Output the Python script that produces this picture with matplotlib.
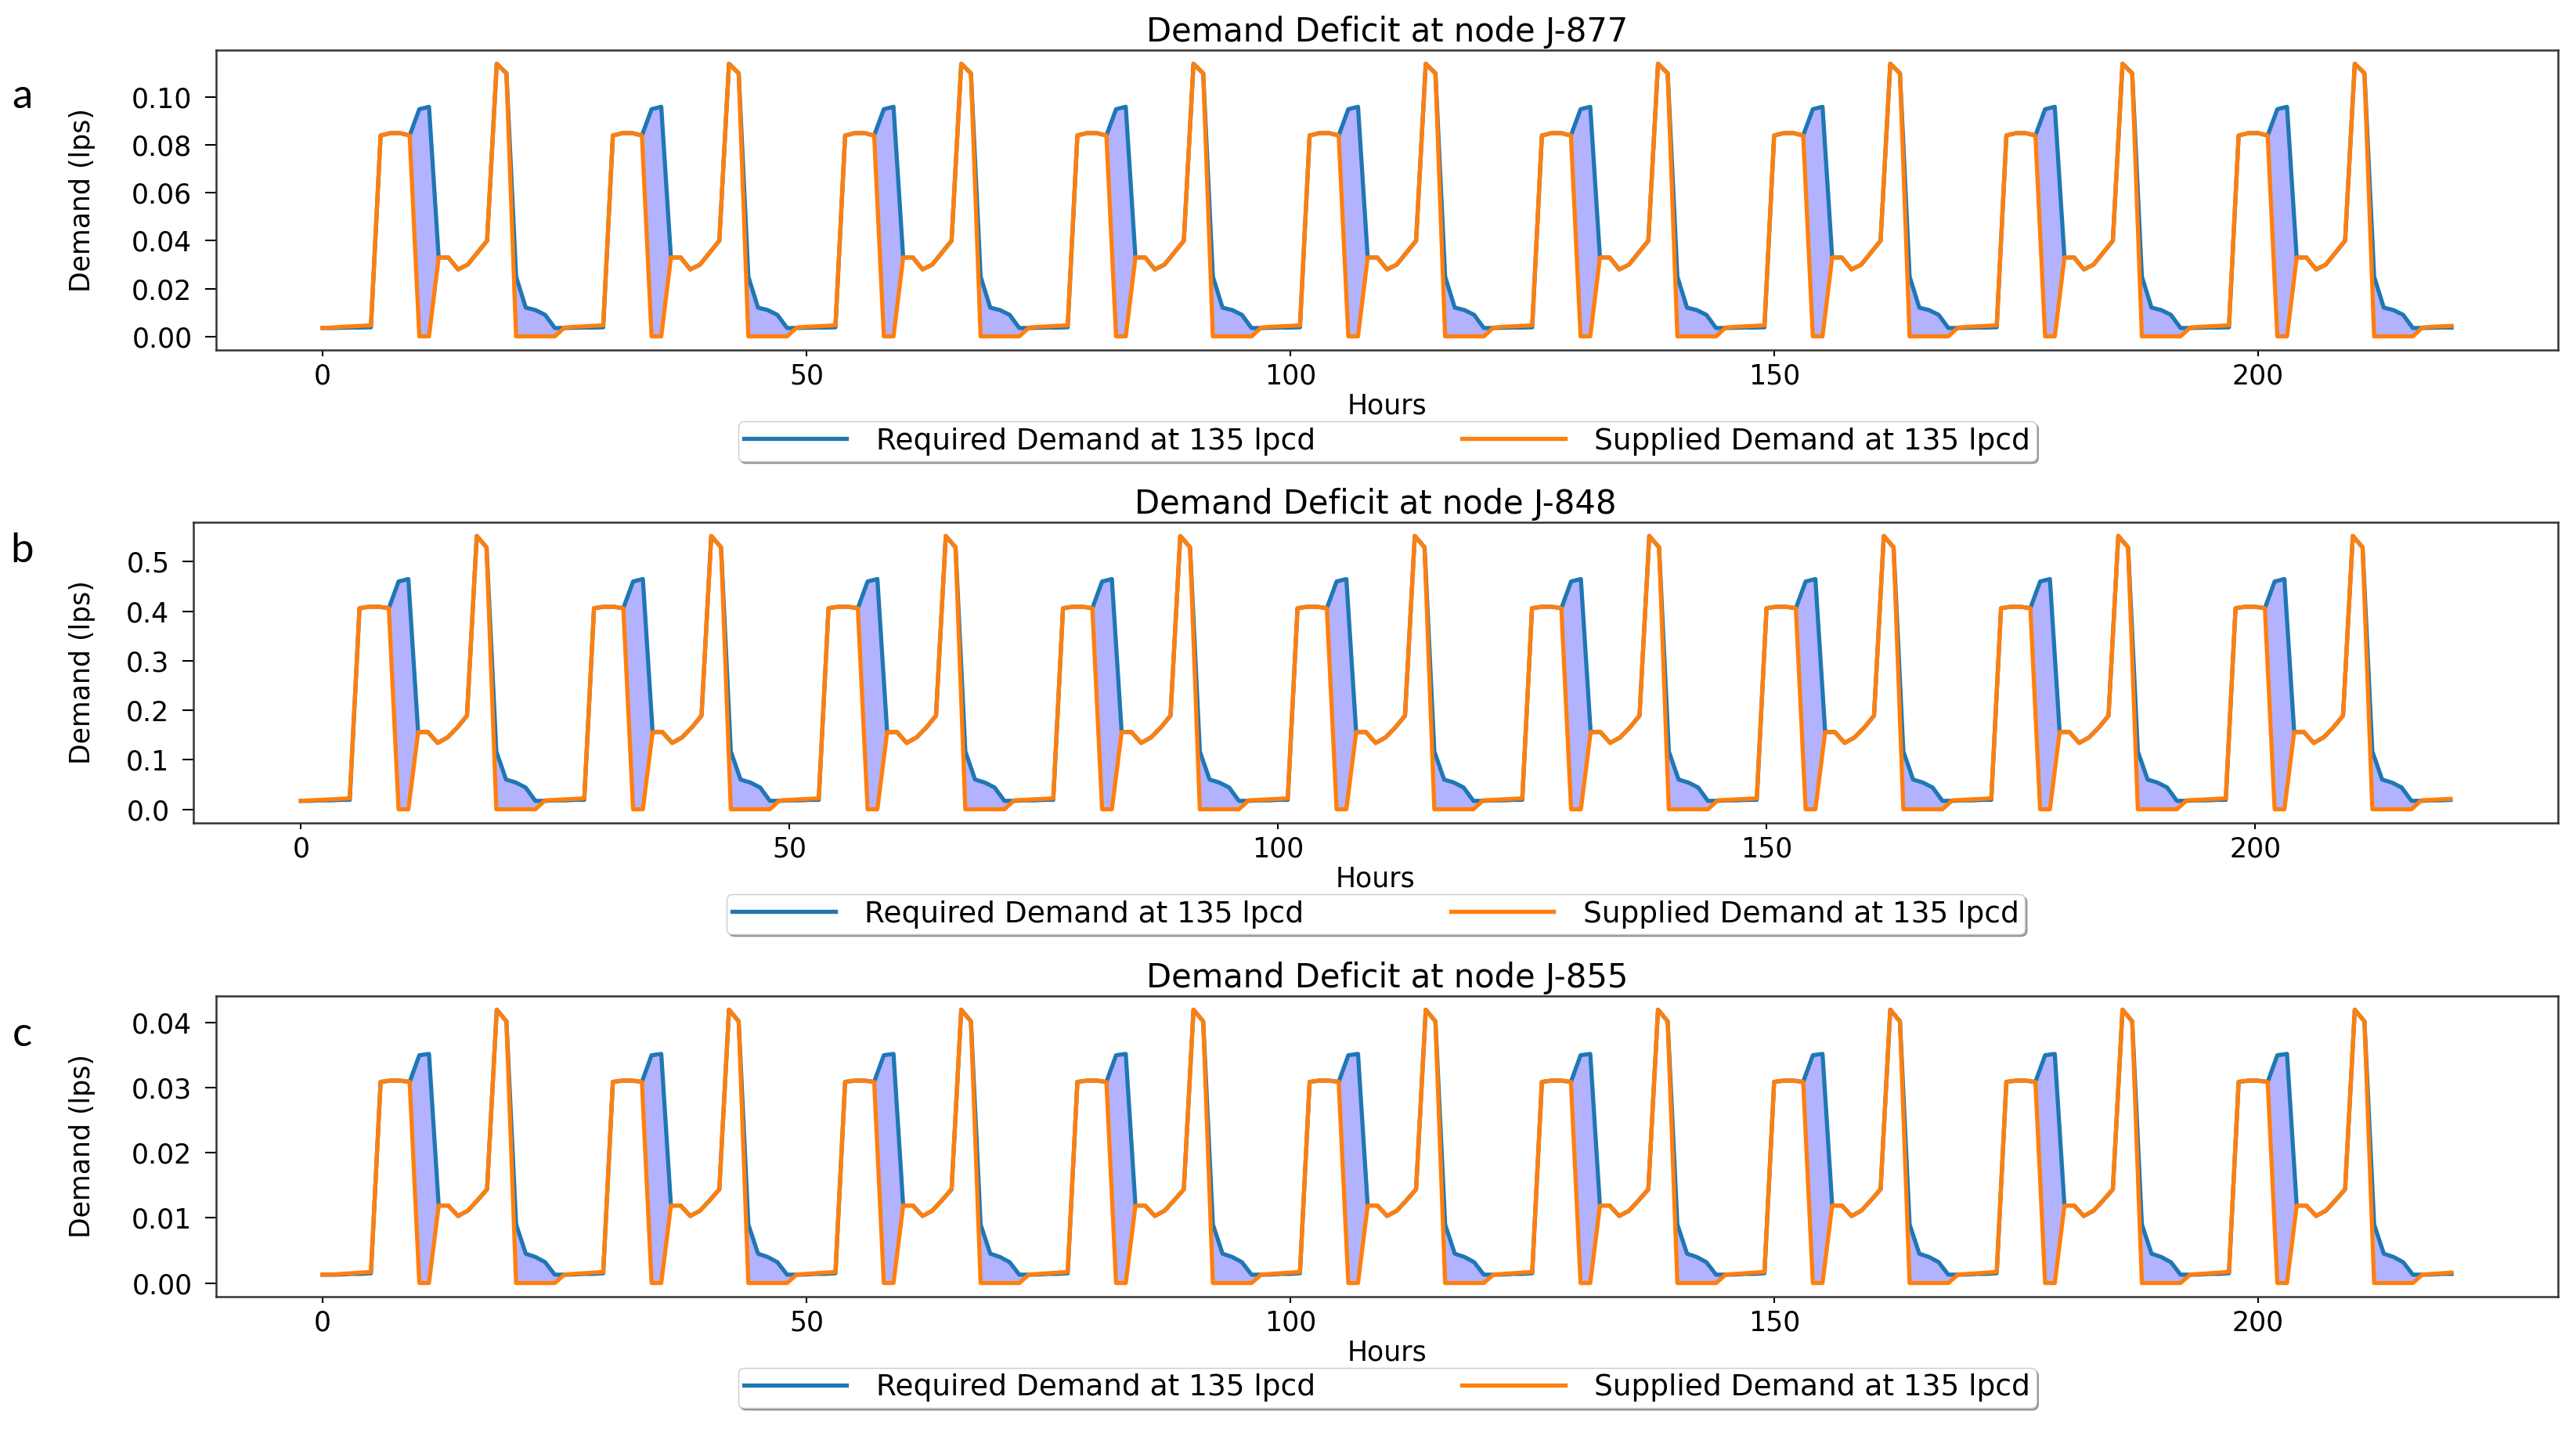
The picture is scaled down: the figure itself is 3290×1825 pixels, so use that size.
import numpy as np
import matplotlib
matplotlib.use("Agg")
import matplotlib.pyplot as plt
from matplotlib.ticker import MultipleLocator

W, H = 3290, 1825
n_hours = 221
hours = np.arange(n_hours)

# daily profiles (hour 0..23), repeated every 24 h
req_a = [0.0035, 0.0035, 0.0036, 0.0037, 0.0037, 0.0038, 0.084, 0.085, 0.085, 0.084, 0.095, 0.096,
         0.033, 0.033, 0.028, 0.030, 0.035, 0.040, 0.114, 0.110, 0.025, 0.012, 0.011, 0.009]
sup_a = [0.0, 0.0037, 0.0040, 0.0042, 0.0044, 0.0046, 0.084, 0.085, 0.085, 0.084, 0.0, 0.0,
         0.033, 0.033, 0.028, 0.030, 0.035, 0.040, 0.114, 0.110, 0.0, 0.0, 0.0, 0.0]

req_b = [0.017, 0.017, 0.018, 0.018, 0.019, 0.019, 0.406, 0.409, 0.409, 0.406, 0.460, 0.465,
         0.156, 0.156, 0.134, 0.145, 0.165, 0.189, 0.552, 0.529, 0.117, 0.060, 0.054, 0.044]
sup_b = [0.0, 0.018, 0.019, 0.020, 0.021, 0.022, 0.406, 0.409, 0.409, 0.406, 0.0, 0.0,
         0.156, 0.156, 0.134, 0.145, 0.165, 0.189, 0.552, 0.529, 0.0, 0.0, 0.0, 0.0]

req_c = [0.00128, 0.00128, 0.0013, 0.0014, 0.0014, 0.0015, 0.0309, 0.0311, 0.0311, 0.0309, 0.0350, 0.0352,
         0.0119, 0.0119, 0.0103, 0.0111, 0.0127, 0.0144, 0.0420, 0.0402, 0.0090, 0.0045, 0.0040, 0.0032]
sup_c = [0.0, 0.0013, 0.0014, 0.0015, 0.0016, 0.0017, 0.0309, 0.0311, 0.0311, 0.0309, 0.0, 0.0,
         0.0119, 0.0119, 0.0103, 0.0111, 0.0127, 0.0144, 0.0420, 0.0402, 0.0, 0.0, 0.0, 0.0]

nodes = ["J-877", "J-848", "J-855"]
letters = ["a", "b", "c"]
ysteps = [0.02, 0.1, 0.01]
profiles = [(req_a, sup_a), (req_b, sup_b), (req_c, sup_c)]

# axes boxes in pixels: left, right, top, bottom
boxes = [(276, 3267, 64, 447), (247, 3267, 667, 1051), (276, 3267, 1272, 1656)]
letter_y = [124, 703, 1321]

fig = plt.figure(figsize=(W / 100, H / 100), dpi=100)

for (req_day, sup_day), node, letter, ystep, box, ly in zip(profiles, nodes, letters, ysteps, boxes, letter_y):
    l, r, t, b = box
    ax = fig.add_axes([l / W, 1 - b / H, (r - l) / W, (b - t) / H])
    n_days = n_hours // 24 + 1
    required = np.tile(req_day, n_days)[:n_hours]
    supplied = np.tile(sup_day, n_days)[:n_hours]
    supplied[0] = required[0]

    ax.plot(hours, required, color="#1f77b4", lw=3.8, label="Required Demand at 135 lpcd", zorder=2)
    ax.plot(hours, supplied, color="#ff7f0e", lw=3.8, label="Supplied Demand at 135 lpcd", zorder=3)
    ax.fill_between(hours, required, supplied, color="blue", alpha=0.3, lw=0, zorder=1)

    ax.yaxis.set_major_locator(MultipleLocator(ystep))
    ax.set_title("Demand Deficit at node " + node, fontsize=30, pad=8)
    ax.set_xlabel("Hours", fontsize=25, labelpad=3)
    ax.set_ylabel("Demand (lps)", fontsize=25)
    ax.yaxis.set_label_coords((122 - l) / (r - l), 0.5)
    ax.tick_params(axis="y", labelsize=25, length=10, width=1.5, pad=12)
    ax.tick_params(axis="x", labelsize=25, length=6, width=1.5, pad=6)
    for s in ax.spines.values():
        s.set_linewidth(1.8)
        s.set_color("#333333")

    leg_top = (b + 91 - t) / (b - t)
    ax.legend(loc="upper center", bbox_to_anchor=(0.5, 1 - leg_top), ncol=2, fontsize=27,
              shadow=True, borderaxespad=0, borderpad=0.2, handlelength=3.5,
              handletextpad=1.0, columnspacing=5.0)

    fig.text(28 / W, 1 - ly / H, letter, fontsize=38, family="Lato", ha="center", va="center")

fig.savefig("out.png", dpi=100)
